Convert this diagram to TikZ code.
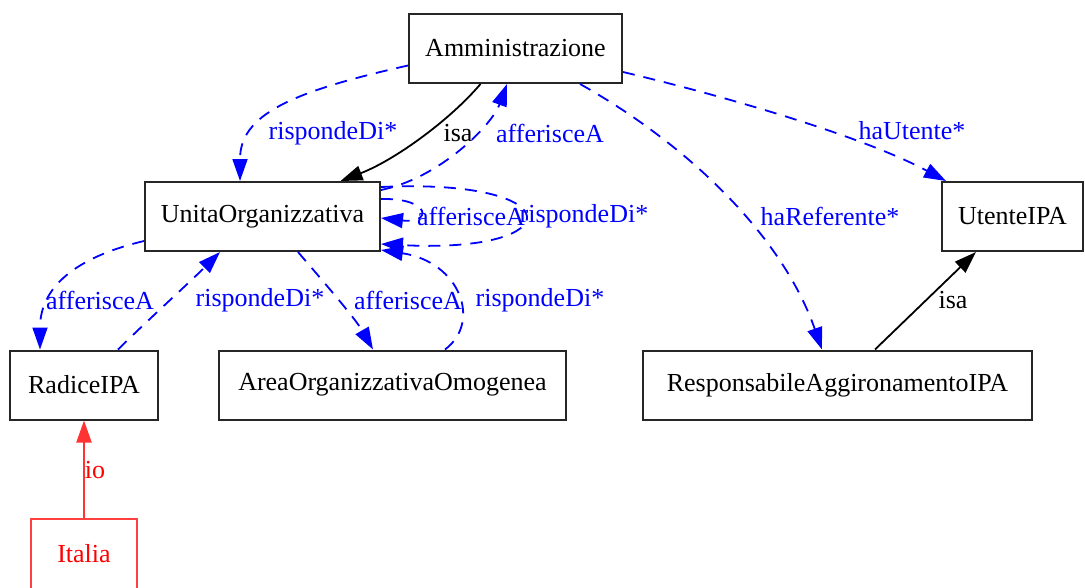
\documentclass[tikz,border=0pt]{standalone}
\usepackage{fontspec}
\setmainfont{Liberation Serif}
\usetikzlibrary{arrows.meta}
\begin{document}
\begin{tikzpicture}[x=1pt,y=-1pt,
  every node/.style={font=\fontsize{26}{30}\selectfont},
  cls/.style={draw=black!85, line width=2pt, inner sep=0pt, minimum height=69pt},
  inst/.style={draw=red!75, line width=2pt, inner sep=0pt, minimum height=70pt, text=red},
  tip/.style={-{Triangle[length=22pt,width=15pt]}},
  rel/.style={draw=blue, line width=1.8pt, dash pattern=on 12pt off 9pt, tip},
  isa/.style={draw=black, line width=1.8pt, tip},
  io/.style={draw=red!80, line width=2pt, tip},
  rlab/.style={text=blue, inner sep=0pt},
  klab/.style={text=black, inner sep=0pt},
  ilab/.style={text=red, inner sep=0pt}]
\useasboundingbox (0,0) rectangle (1085,587);
\fill[white] (0,0) rectangle (1085,587);

% classes
\node[cls, minimum width=213pt] (amm)  at (515.5,48.5) {Amministrazione};
\node[cls, minimum width=235pt] (uo)   at (262.5,216.5) {UnitaOrganizzativa};
\node[cls, minimum width=141pt] (ute)  at (1012.5,216.5) {UtenteIPA};
\node[cls, minimum width=148pt] (rad)  at (84,385) {RadiceIPA};
\node[cls, minimum width=347pt] (aoo)  at (392.5,385) {AreaOrganizzativaOmogenea};
\node[cls, minimum width=389pt] (resp) at (837.5,385) {ResponsabileAggironamentoIPA};
% instance
\node[inst, minimum width=106pt] (ita) at (84,554) {Italia};

% Amministrazione relations
\draw[rel] ([yshift=-17pt]amm.west) .. controls (290,92) and (240,115) .. ([xshift=-22.5pt]uo.north);
\draw[isa] ([xshift=-35pt]amm.south) .. controls (450,120) and (395,160) .. ([xshift=78pt]uo.north);
\draw[rel] ([yshift=-9pt]uo.north east) .. controls (440,178) and (492,125) .. ([xshift=-8.5pt]amm.south);
\draw[rel] ([yshift=-23.5pt]amm.east) .. controls (720,95) and (860,135) .. ([xshift=5pt]ute.north west);
\draw[rel] ([xshift=64.5pt]amm.south) .. controls (680,140) and (780,230) .. ([xshift=-15.5pt]resp.north);

% UnitaOrganizzativa self loops
\draw[rel] ([yshift=-18pt]uo.north east) .. controls (432,198) and (432,224) .. ([yshift=-37pt]uo.north east);
\draw[rel] ([yshift=-6pt]uo.north east) .. controls (572,178) and (572,254) .. ([yshift=8pt]uo.south east);

% lower relations
\draw[rel] ([yshift=11pt]uo.south west) .. controls (85,255) and (40,282) .. ([xshift=31pt]rad.north west);
\draw[rel] ([xshift=34pt]rad.north) .. controls (150,318) and (190,282) .. ([xshift=-42.5pt]uo.south);
\draw[rel] ([xshift=35.5pt]uo.south) .. controls (322,280) and (355,318) .. ([xshift=-19.5pt]aoo.north);
\draw[rel] ([xshift=52.5pt]aoo.north) .. controls (482,322) and (460,262) .. ([yshift=2pt]uo.south east);

% isa and instance-of
\draw[isa] ([xshift=37.5pt]resp.north) -- ([xshift=35pt]ute.south west);
\draw[io] (ita.north) -- (rad.south);

% labels
\node[rlab] (l1) at (333,133) {rispondeDi*};
\node[klab] (l2) at (458,133) {isa};
\node[rlab] (l3) at (550,133) {afferisceA};
\node[rlab] (l4) at (912,131) {haUtente*};
\node[rlab] (l5) at (830,216) {haReferente*};
\node[rlab] (l6) at (471,216) {afferisceA};
\node[rlab] (l7) at (584,216) {rispondeDi*};
\node[rlab] (l8) at (100,300) {afferisceA};
\node[rlab] (l9) at (260,300) {rispondeDi*};
\node[rlab] (l10) at (408,300) {afferisceA};
\node[rlab] (l11) at (540,300) {rispondeDi*};
\node[klab] (l12) at (953,300) {isa};
\node[ilab] (l13) at (95,470) {io};
\end{tikzpicture}
\end{document}
